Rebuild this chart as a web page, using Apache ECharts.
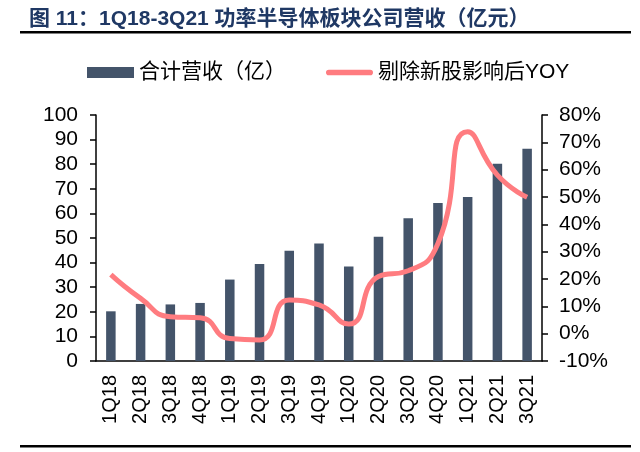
<!DOCTYPE html>
<html>
<head>
    <meta http-equiv="content-type" content="text/html;charset=utf-8">
    <script src="https://cdn.jsdelivr.net/npm/echarts@6/dist/echarts.min.js"></script>
    <style>
        html, body { margin: 0; padding: 0; background: #fff; }
        #chart { width: 640px; height: 452px; }
    </style>
</head>
<body>
<div id="chart"></div>

<script type="text/javascript">
    // 季度
    var quarters = ['1Q18', '2Q18', '3Q18', '4Q18', '1Q19', '2Q19', '3Q19', '4Q19',
        '1Q20', '2Q20', '3Q20', '4Q20', '1Q21', '2Q21', '3Q21'];
    // 合计营收（亿）
    var revenue = [20.2, 23.2, 23.0, 23.6, 33.1, 39.4, 44.8, 47.8,
        38.4, 50.5, 58.0, 64.2, 66.7, 80.2, 86.3];
    // 剔除新股影响后YOY（%）
    var yoy = [21.6, 12.9, 6.2, 5.8, -1.8, -2.3, 12.3, 10.5,
        3.5, 20.9, 23.0, 33.0, 73.9, 58.0, 49.9];

    var font = "'Liberation Sans', 'Noto Sans CJK SC', sans-serif";
    var myChart = echarts.init(document.getElementById('chart'));

    var option = {
        animation: false,
        title: {
            text: '图 11：1Q18-3Q21 功率半导体板块公司营收（亿元）',
            left: 24,
            top: 4,
            textStyle: {
                color: '#1f3864',
                fontSize: 21,
                fontWeight: 'bold',
                fontFamily: font
            }
        },
        legend: {
            left: 82,
            top: 57,
            itemGap: 40,
            itemWidth: 47,
            itemHeight: 11,
            textStyle: { fontSize: 21, color: '#000', fontFamily: font },
            data: [
                { name: '合计营收（亿）', icon: 'rect' },
                { name: '剔除新股影响后YOY', icon: 'path://M3,0 H47 A3,3 0 0 1 47,6 H3 A3,3 0 0 1 3,0 Z' }
            ]
        },
        grid: {
            left: 96,
            right: 98,
            top: 115,
            bottom: 91
        },
        xAxis: [
            {
                type: 'category',
                data: quarters,
                axisLine: { lineStyle: { color: '#000', width: 1.5 } },
                axisTick: { length: 6, lineStyle: { color: '#000', width: 1.5 } },
                axisLabel: {
                    rotate: 90,
                    interval: 0,
                    margin: 14,
                    color: '#000',
                    fontSize: 20,
                    fontFamily: font
                }
            }
        ],
        yAxis: [
            {
                type: 'value',
                min: 0,
                max: 100,
                interval: 10,
                splitLine: { show: false },
                axisLine: { show: true, lineStyle: { color: '#000', width: 1.5 } },
                axisTick: { show: true, length: 6, lineStyle: { color: '#000', width: 1.5 } },
                axisLabel: { color: '#000', fontSize: 21, margin: 18, fontFamily: font }
            },
            {
                type: 'value',
                min: -10,
                max: 80,
                interval: 10,
                splitLine: { show: false },
                axisLine: { show: true, lineStyle: { color: '#000', width: 1.5 } },
                axisTick: { show: true, length: 6, lineStyle: { color: '#000', width: 1.5 } },
                axisLabel: { color: '#000', fontSize: 21, margin: 17, fontFamily: font, formatter: '{value}%' }
            }
        ],
        series: [
            {
                name: '合计营收（亿）',
                type: 'bar',
                barWidth: 9.5,
                itemStyle: { color: '#44546a' },
                data: revenue
            },
            {
                name: '剔除新股影响后YOY',
                type: 'line',
                yAxisIndex: 1,
                smooth: 0.55,
                symbol: 'none',
                lineStyle: { color: '#ff7c80', width: 5 },
                itemStyle: { color: '#ff7c80' },
                data: yoy
            }
        ],
        graphic: [
            { type: 'rect', shape: { x: 20, y: 31, width: 611, height: 2.5 }, style: { fill: '#000' } },
            { type: 'rect', shape: { x: 20, y: 445, width: 611, height: 2.5 }, style: { fill: '#000' } }
        ]
    };

    myChart.setOption(option);
</script>

</body>
</html>
